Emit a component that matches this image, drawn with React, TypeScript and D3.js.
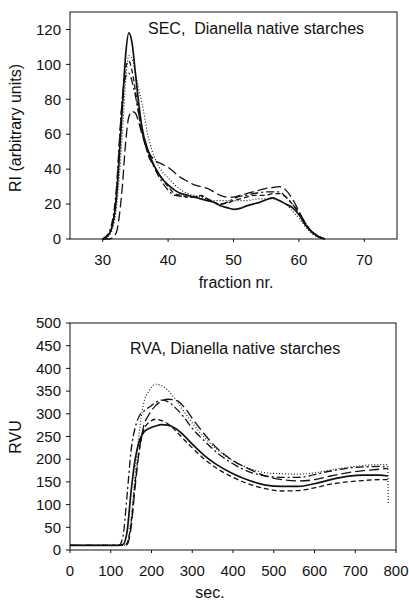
import React from "react";
import * as d3 from "d3";

// ---------- SEC data (fraction nr. vs RI) ----------
const secFraction = [30, 31, 32, 33, 33.5, 34, 34.5, 35, 35.5, 36, 37, 38, 39, 40, 41, 42, 43, 44, 45, 46, 47, 48, 49, 50, 51, 52, 53, 54, 55, 56, 57, 58, 59, 60, 61, 62, 63, 64];
const secSolid = [0, 3, 20, 75, 105, 118, 112, 95, 78, 64, 50, 41, 35, 31, 28, 26, 25, 24, 23, 22, 21, 19, 18, 17, 17.5, 19, 20, 21, 22.5, 23.5, 22, 20, 18, 14, 8, 4, 1.5, 0];
const secLongDash = [0, 0, 3, 30, 55, 70, 73, 72, 67, 60, 50, 45, 43, 41, 38, 35, 33, 31, 30, 29, 27, 25, 24, 24, 25, 26, 27, 28, 29, 29.5, 30, 28, 23, 16, 9, 4, 1, 0];
const secDotted = [0, 2, 15, 60, 90, 105, 103, 95, 86, 78, 58, 46, 39, 35, 31, 28, 26, 25, 24, 23, 22, 22, 22, 22, 22, 22, 22.5, 23, 23, 23, 22, 20, 16, 12, 7, 3, 1, 0];
const secDashDot = [0, 4, 25, 80, 93, 95, 90, 82, 72, 62, 48, 40, 33, 28, 25, 24.5, 24, 24, 24.5, 23, 21, 20, 21, 23, 24.5, 25, 26, 26.5, 27, 27, 27, 24, 20, 15, 9, 4, 1.5, 0];
const secMedDash = [0, 3, 22, 80, 98, 102, 96, 85, 72, 62, 48, 41, 35, 30, 26, 25, 24, 24, 25, 23, 21, 20, 20.5, 22, 23, 24, 25, 25, 25, 26, 26, 24, 20, 15, 9, 4, 1.5, 0];
const secXTicks = [30, 40, 50, 60, 70];
const secYTicks = [0, 20, 40, 60, 80, 100, 120];

// ---------- RVA data (sec vs RVU) ----------
const rvaTime = [0, 120, 130, 140, 150, 160, 170, 180, 195, 210, 225, 240, 260, 280, 300, 330, 360, 400, 440, 480, 520, 560, 600, 640, 680, 720, 760, 780, 781];
const rvaSolid = [10, 10, 12, 40, 130, 200, 240, 258, 268, 273, 276, 275, 267, 252, 233, 208, 188, 168, 153, 143, 140, 140, 146, 155, 162, 165, 165, 163, null];
const rvaMedDash = [10, 10, 10, 15, 60, 150, 220, 262, 282, 288, 285, 278, 262, 243, 225, 200, 180, 160, 145, 135, 130, 131, 137, 145, 150, 153, 155, 155, null];
const rvaDashDot = [10, 10, 30, 120, 220, 270, 295, 305, 315, 325, 330, 327, 312, 292, 268, 240, 215, 190, 172, 163, 160, 160, 166, 174, 180, 183, 184, 182, null];
const rvaLongDash = [10, 10, 10, 12, 50, 140, 220, 270, 300, 318, 328, 332, 330, 315, 290, 255, 225, 197, 178, 163, 155, 152, 155, 163, 170, 175, 178, 180, null];
const rvaDotted = [10, 10, 10, 15, 70, 170, 260, 320, 352, 365, 362, 352, 330, 305, 280, 248, 222, 196, 180, 170, 168, 167, 170, 176, 182, 186, 188, 188, 100];
const rvaXTicks = [0, 100, 200, 300, 400, 500, 600, 700, 800];
const rvaYTicks = [0, 50, 100, 150, 200, 250, 300, 350, 400, 450, 500];

const FONT = "'Liberation Sans', Arial, sans-serif";

type Style = { dash: string; width: number };
const styles: Record<string, Style> = {
  solid: { dash: "none", width: 1.7 },
  longDash: { dash: "10,4", width: 1.3 },
  dotted: { dash: "1,2", width: 1.1 },
  dashDot: { dash: "8,3,2,3", width: 1.3 },
  medDash: { dash: "5,3", width: 1.3 },
};

function Panel(props: {
  left: number; right: number; top: number; bottom: number;
  xDomain: [number, number]; yDomain: [number, number];
  xTicks: number[]; yTicks: number[];
  xs: number[]; series: { vals: (number | null)[]; style: Style }[];
  title: string; titleX: number; titleY: number;
  xLabel: string; xLabelX: number; xLabelY: number;
  yLabel: string; yLabelX: number; yLabelY: number;
}) {
  const x = d3.scaleLinear().domain(props.xDomain).range([props.left, props.right]);
  const y = d3.scaleLinear().domain(props.yDomain).range([props.bottom, props.top]);
  const line = d3
    .line<[number, number | null]>()
    .defined((d) => d[1] !== null)
    .x((d) => x(d[0]))
    .y((d) => y(d[1] as number))
    .curve(d3.curveMonotoneX);
  return (
    <g>
      <rect x={props.left} y={props.top} width={props.right - props.left} height={props.bottom - props.top} fill="none" stroke="#111" strokeWidth={1} />
      {props.yTicks.map((t) => (
        <g key={"y" + t}>
          <line x1={props.left - 4} x2={props.left} y1={y(t)} y2={y(t)} stroke="#111" />
          <text x={props.left - 9} y={y(t)} dy="0.35em" textAnchor="end" fontSize={15} fontFamily={FONT} fill="#111">{t}</text>
        </g>
      ))}
      {props.xTicks.map((t) => (
        <g key={"x" + t}>
          <line x1={x(t)} x2={x(t)} y1={props.bottom} y2={props.bottom + 3} stroke="#111" />
          <text x={x(t)} y={props.bottom + 26} textAnchor="middle" fontSize={15} fontFamily={FONT} fill="#111">{t}</text>
        </g>
      ))}
      {props.series.map((s, i) => (
        <path key={i} d={line(props.xs.map((v, j) => [v, s.vals[j]] as [number, number | null])) || ""} fill="none" stroke="#111" strokeWidth={s.style.width} strokeDasharray={s.style.dash} />
      ))}
      <text x={props.titleX} y={props.titleY} fontSize={16} fontFamily={FONT} fill="#111" style={{ whiteSpace: "pre" }}>{props.title}</text>
      <text x={props.xLabelX} y={props.xLabelY} textAnchor="middle" fontSize={16} fontFamily={FONT} fill="#111">{props.xLabel}</text>
      <text transform={`translate(${props.yLabelX},${props.yLabelY}) rotate(-90)`} textAnchor="middle" fontSize={16} fontFamily={FONT} fill="#111">{props.yLabel}</text>
    </g>
  );
}

export default function App() {
  return (
    <svg width={409} height={601} style={{ position: "absolute", left: 0, top: 0, background: "#fff" }}>
      <rect width={409} height={601} fill="#fff" />
      <Panel
        left={70} right={397} top={12} bottom={239}
        xDomain={[25, 75]} yDomain={[0, 130]}
        xTicks={secXTicks} yTicks={secYTicks}
        xs={secFraction}
        series={[
          { vals: secLongDash, style: styles.longDash },
          { vals: secDotted, style: styles.dotted },
          { vals: secDashDot, style: styles.dashDot },
          { vals: secMedDash, style: styles.medDash },
          { vals: secSolid, style: styles.solid },
        ]}
        title="SEC,  Dianella native starches" titleX={148} titleY={34}
        xLabel="fraction nr." xLabelX={236} xLabelY={288}
        yLabel="RI (arbitrary units)" yLabelX={21} yLabelY={128}
      />
      <Panel
        left={70} right={396} top={323} bottom={550}
        xDomain={[0, 800]} yDomain={[0, 500]}
        xTicks={rvaXTicks} yTicks={rvaYTicks}
        xs={rvaTime}
        series={[
          { vals: rvaDotted, style: styles.dotted },
          { vals: rvaLongDash, style: styles.longDash },
          { vals: rvaDashDot, style: styles.dashDot },
          { vals: rvaMedDash, style: styles.medDash },
          { vals: rvaSolid, style: styles.solid },
        ]}
        title="RVA, Dianella native starches" titleX={130} titleY={354}
        xLabel="sec." xLabelX={210} xLabelY={598}
        yLabel="RVU" yLabelX={21} yLabelY={437}
      />
    </svg>
  );
}
